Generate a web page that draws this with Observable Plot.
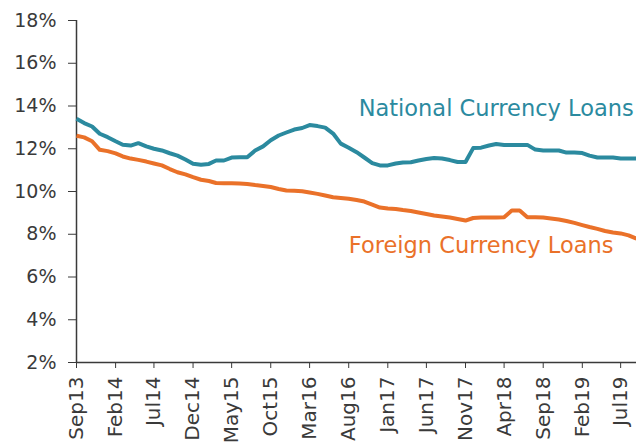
<!DOCTYPE html>
<html>
<head>
<meta charset="utf-8">
<script src="https://cdn.jsdelivr.net/npm/d3@7"></script>
<script src="https://cdn.jsdelivr.net/npm/@observablehq/plot@0.6"></script>
<style>
  html, body { margin: 0; padding: 0; background: #fff; }
  #chart svg { display: block; }
</style>
</head>
<body>
<div id="chart"></div>
<script>
// ---- Data (monthly, Sep 2013 .. Sep 2019) ----
const firstMonth = "Sep13";
const nationalCurrencyLoans = [
  13.40, 13.20, 13.04, 12.70, 12.54, 12.35, 12.19, 12.15, 12.26, 12.11, 12.00, 11.92, 11.79,
  11.68, 11.50, 11.30, 11.25, 11.29, 11.45, 11.45, 11.59, 11.60, 11.60, 11.92, 12.11, 12.40,
  12.62, 12.76, 12.90, 12.97, 13.11, 13.06, 12.99, 12.71, 12.24, 12.05, 11.84, 11.59, 11.33,
  11.22, 11.22, 11.31, 11.36, 11.37, 11.45, 11.52, 11.57, 11.54, 11.47, 11.38, 11.38, 12.03,
  12.05, 12.15, 12.22, 12.18, 12.18, 12.18, 12.18, 11.96, 11.92, 11.92, 11.92, 11.82, 11.82,
  11.80, 11.68, 11.59, 11.59, 11.59, 11.54, 11.54, 11.54
];
const foreignCurrencyLoans = [
  12.61, 12.53, 12.35, 11.95, 11.89, 11.78, 11.64, 11.54, 11.48, 11.40, 11.31, 11.22, 11.05,
  10.90, 10.80, 10.67, 10.55, 10.49, 10.40, 10.39, 10.39, 10.37, 10.35, 10.30, 10.26, 10.21,
  10.12, 10.05, 10.03, 10.01, 9.95, 9.89, 9.81, 9.73, 9.70, 9.66, 9.60, 9.53, 9.39,
  9.25, 9.20, 9.18, 9.13, 9.09, 9.02, 8.95, 8.88, 8.83, 8.78, 8.71, 8.64, 8.76,
  8.78, 8.78, 8.78, 8.80, 9.11, 9.11, 8.80, 8.80, 8.78, 8.74, 8.69, 8.62, 8.53,
  8.43, 8.34, 8.25, 8.15, 8.08, 8.04, 7.95, 7.80
];
const seriesNames = ["National Currency Loans", "Foreign Currency Loans"];
const seriesColors = ["#2b8a9f", "#ea7129"];
const xTickLabels = ["Sep13","Feb14","Jul14","Dec14","May15","Oct15","Mar16","Aug16",
                     "Jan17","Jun17","Nov17","Apr18","Sep18","Feb19","Jul19"];
const yTicks = [2, 4, 6, 8, 10, 12, 14, 16, 18];
// label anchor points (month label, value)
const labelMonths = ["Mar18", "Jan18"];
const labelValues = [13.88, 7.47];

// ---- helpers ----
const monthNames = ["Jan","Feb","Mar","Apr","May","Jun","Jul","Aug","Sep","Oct","Nov","Dec"];
const parseMonth = s => new Date(Date.UTC(2000 + +s.slice(3), monthNames.indexOf(s.slice(0,3)), 1));
const fmtMonth = d => monthNames[d.getUTCMonth()] + String(d.getUTCFullYear()).slice(2);
const start = parseMonth(firstMonth);
const monthAt = i => new Date(Date.UTC(start.getUTCFullYear(), start.getUTCMonth() + i, 1));

const rows = [];
nationalCurrencyLoans.forEach((v, i) => rows.push({date: monthAt(i), value: v, series: seriesNames[0]}));
foreignCurrencyLoans.forEach((v, i) => rows.push({date: monthAt(i), value: v, series: seriesNames[1]}));
const endDate = monthAt(nationalCurrencyLoans.length - 1);
const labels = seriesNames.map((name, i) => ({name, date: parseMonth(labelMonths[i]), value: labelValues[i], color: seriesColors[i]}));

const axisColor = "#3a3a3a";
const chart = Plot.plot({
  width: 636,
  height: 443,
  marginLeft: 76,
  marginRight: 0,
  marginTop: 20,
  marginBottom: 81,
  style: {fontFamily: "'DejaVu Sans', sans-serif", fontSize: "18px", color: axisColor, background: "#fff", overflow: "visible"},
  x: {type: "utc", domain: [start, endDate], label: null},
  y: {domain: [2, 18], label: null},
  color: {domain: seriesNames, range: seriesColors},
  marks: [
    Plot.axisX({ticks: xTickLabels.map(parseMonth), tickFormat: fmtMonth, tickRotate: -90, tickSize: 6, tickPadding: 8, fontSize: 20, label: null}),
    Plot.axisY({ticks: yTicks, tickFormat: d => d + "%", tickSize: 8, tickPadding: 12, fontSize: 19, label: null}),
    Plot.ruleX([start], {stroke: axisColor, strokeWidth: 1.5}),
    Plot.ruleY([2], {stroke: axisColor, strokeWidth: 1.5}),
    Plot.line(rows, {x: "date", y: "value", z: "series", stroke: "series", strokeWidth: 4, strokeLinejoin: "round", strokeLinecap: "butt"}),
    Plot.text(labels, {x: "date", y: "value", text: "name", fill: "color", fontSize: 22.5, textAnchor: "middle"})
  ]
});
document.getElementById("chart").appendChild(chart);
</script>
</body>
</html>
